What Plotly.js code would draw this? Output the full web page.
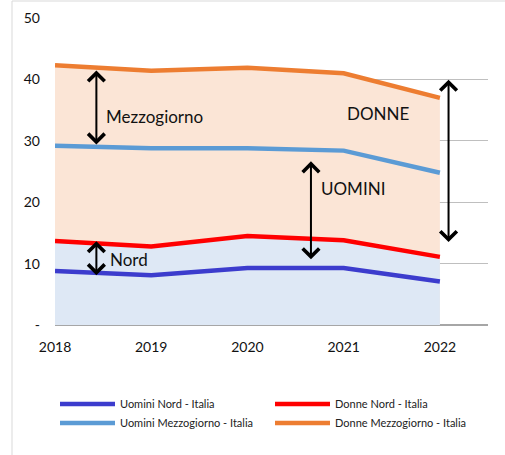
<!DOCTYPE html>
<html><head><meta charset="utf-8">
<script src="https://cdn.plot.ly/plotly-3.0.1.min.js"></script>
<style>html,body{margin:0;padding:0;background:#fff}#c{width:505px;height:455px}</style>
</head><body><div id="c"></div>
<script>
const years = [2018, 2019, 2020, 2021, 2022];
const uominiNord = [8.8, 8.1, 9.3, 9.3, 7.1];
const donneNord = [13.7, 12.8, 14.5, 13.8, 11.1];
const uominiMezzogiorno = [29.2, 28.8, 28.8, 28.4, 24.8];
const donneMezzogiorno = [42.3, 41.4, 41.9, 41.0, 37.0];
const yTickVals = [0, 10, 20, 30, 40, 50];
const yTickText = ['-', '10', '20', '30', '40', '50'];
const seriesNames = ['Uomini Nord - Italia', 'Donne Nord - Italia', 'Uomini Mezzogiorno - Italia', 'Donne Mezzogiorno - Italia'];

const FONT = 'Lato, "Open Sans", sans-serif';

const traces = [
  {x: years, y: donneMezzogiorno, type: 'scatter', mode: 'lines', fill: 'tozeroy',
   fillcolor: '#fbe5d6', line: {width: 0, color: '#fbe5d6'}, showlegend: false, hoverinfo: 'skip'},
  {x: years, y: donneNord, type: 'scatter', mode: 'lines', fill: 'tozeroy',
   fillcolor: '#dee8f5', line: {width: 0, color: '#dee8f5'}, showlegend: false, hoverinfo: 'skip'},
  {x: years, y: uominiNord, name: seriesNames[0], type: 'scatter', mode: 'lines', line: {color: '#3c3ccd', width: 4.5}},
  {x: years, y: donneNord, name: seriesNames[1], type: 'scatter', mode: 'lines', line: {color: '#ff0000', width: 4.5}},
  {x: years, y: uominiMezzogiorno, name: seriesNames[2], type: 'scatter', mode: 'lines', line: {color: '#5b9bd5', width: 4.5}},
  {x: years, y: donneMezzogiorno, name: seriesNames[3], type: 'scatter', mode: 'lines', line: {color: '#ed7d31', width: 4.5}}
];

function arrow(x, y0, y1) {
  return {x: x, y: y1, ax: x, ay: y0, xref: 'x', yref: 'y', axref: 'x', ayref: 'y',
    text: '', showarrow: true, arrowhead: 4, startarrowhead: 4, arrowside: 'end+start',
    arrowsize: 1.6, startarrowsize: 1.6, arrowwidth: 2, arrowcolor: '#000'};
}
function label(x, y, t) {
  return {x: x, y: y, xref: 'x', yref: 'y', text: t, showarrow: false, xanchor: 'left',
    font: {family: FONT, size: 17, color: '#111'}};
}

const annotations = [
  arrow(2018.43, 41.7, 29.4),
  arrow(2018.43, 13.9, 8.1),
  arrow(2020.66, 26.9, 10.7),
  arrow(2022.09, 40.2, 13.5),
  label(2018.51, 34.0, 'Mezzogiorno'),
  label(2021.01, 34.4, 'DONNE'),
  label(2020.74, 22.3, 'UOMINI'),
  label(2018.55, 10.7, 'Nord')
];

const layout = {
  width: 505, height: 455,
  margin: {l: 55, r: 17, t: 18, b: 130},
  paper_bgcolor: '#fff', plot_bgcolor: '#fff',
  font: {family: FONT, color: '#111'},
  xaxis: {range: [2018, 2022.5], tickvals: years, ticktext: years.map(String),
    showgrid: false, zeroline: false, showline: false, ticks: '',
    ticklabelstandoff: 12, tickfont: {size: 14, family: FONT, color: '#111'}},
  yaxis: {range: [0, 50], tickvals: yTickVals, ticktext: yTickText,
    showgrid: true, gridcolor: '#bfbfbf', gridwidth: 1, zeroline: true, zerolinecolor: '#a6a6a6', zerolinewidth: 2,
    showline: false, ticks: '', ticklabelstandoff: 14,
    tickfont: {size: 14, family: FONT, color: '#111'}},
  legend: {orientation: 'h', x: 0.0, y: -0.21, xanchor: 'left', yanchor: 'top',
    entrywidth: 145, font: {size: 11, family: FONT, color: '#222'},
    tracegroupgap: 0, itemwidth: 55},
  annotations: annotations,
  shapes: [
    {type: 'line', xref: 'paper', yref: 'paper', x0: -43/433, x1: -43/433, y0: -130/307, y1: 1 + 17/307,
      line: {color: '#d9d9d9', width: 1}},
    {type: 'line', xref: 'paper', yref: 'paper', x0: -43/433, x1: 1 + 17/433, y0: 1 + 17/307, y1: 1 + 17/307,
      line: {color: '#d9d9d9', width: 1}}
  ],
  showlegend: true
};

Plotly.newPlot('c', traces, layout, {displayModeBar: false, staticPlot: true});
</script></body></html>
